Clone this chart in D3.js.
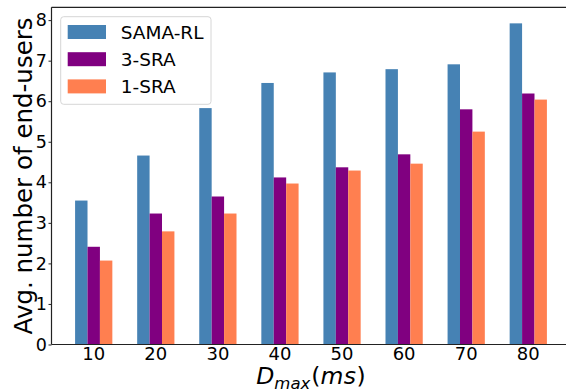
<!DOCTYPE html>
<html>
<head>
<meta charset="utf-8">
<script src="https://cdn.jsdelivr.net/npm/d3@7"></script>
<style>
  html, body { margin: 0; padding: 0; background: #fff; }
  svg { display: block; overflow: hidden; }
  text { font-family: "DejaVu Sans", sans-serif; fill: #000; }
</style>
</head>
<body>
<svg id="chart" width="566" height="390"></svg>
<script>
const categories = ["10", "20", "30", "40", "50", "60", "70", "80"];
const seriesNames = ["SAMA-RL", "3-SRA", "1-SRA"];
const samaRL = [3.55, 4.66, 5.83, 6.45, 6.71, 6.79, 6.91, 7.92];
const sra3   = [2.41, 3.23, 3.65, 4.12, 4.37, 4.69, 5.80, 6.19];
const sra1   = [2.07, 2.79, 3.23, 3.97, 4.29, 4.46, 5.25, 6.04];
const seriesColors = ["#4682b4", "#800080", "#ff7f50"];
const yTickValues = [0, 1, 2, 3, 4, 5, 6, 7, 8];
const yLabel = "Avg. number of end-users";

(function () {
const seriesValues = [samaRL, sra3, sra1];
const rows = categories.map((c, i) => ({
  cat: c,
  vals: seriesNames.map((s, j) => ({ key: s, value: seriesValues[j][i], color: seriesColors[j] }))
}));

const svg = d3.select("#chart");
const pL = 51.5, pR = 570.5, pT = 7.3, pB = 344.5;

const x0 = d3.scaleBand().domain(categories).range([pL, pR])
  .paddingInner(0.4).paddingOuter(0.38);
const x1 = d3.scaleBand().domain(seriesNames).range([0, x0.bandwidth()]);
const y = d3.scaleLinear().domain([0, 8.316]).range([pB, pT]);

// bars
const groups = svg.append("g").selectAll("g").data(rows).join("g")
  .attr("transform", d => `translate(${x0(d.cat)},0)`);
groups.selectAll("rect").data(d => d.vals).join("rect")
  .attr("x", d => x1(d.key))
  .attr("width", x1.bandwidth())
  .attr("y", d => y(d.value))
  .attr("height", d => y(0) - y(d.value))
  .attr("fill", d => d.color);

// axes
const yAxis = d3.axisLeft(y).tickValues(yTickValues).tickFormat(d3.format("d"))
  .tickSize(3).tickPadding(1.5);
const gy = svg.append("g").attr("transform", `translate(${pL},0)`).call(yAxis);
gy.select(".domain").remove();
gy.selectAll("line").attr("stroke", "#222").attr("stroke-width", 1);
gy.selectAll("text").style("font-size", "17.5px").attr("fill", "#000");

const xAxis = d3.axisBottom(x0).tickSize(0).tickPadding(3);
const gx = svg.append("g").attr("transform", `translate(0,${pB})`).call(xAxis);
gx.select(".domain").remove();
gx.selectAll("text").style("font-size", "18px").attr("fill", "#000");

// spines
const spine = svg.append("g").attr("stroke", "#222").attr("stroke-width", 1.2).attr("fill", "none");
spine.append("line").attr("x1", pL).attr("x2", pL).attr("y1", pT).attr("y2", pB);
spine.append("line").attr("x1", pL).attr("x2", pR).attr("y1", pB).attr("y2", pB);
spine.append("line").attr("x1", pL).attr("x2", pR).attr("y1", pT).attr("y2", pT);
spine.append("line").attr("x1", pR).attr("x2", pR).attr("y1", pT).attr("y2", pB);

// y label
svg.append("text")
  .attr("transform", `translate(32,${(pT + pB) / 2}) rotate(-90)`)
  .attr("text-anchor", "middle")
  .style("font-size", "24.5px")
  .text(yLabel);

// x label  D_max(ms)
const xl = svg.append("text")
  .attr("x", (pL + pR) / 2)
  .attr("y", 383.5)
  .attr("text-anchor", "middle")
  .style("font-size", "23.5px");
xl.append("tspan").style("font-style", "italic").text("D");
xl.append("tspan").style("font-style", "italic").style("font-size", "16.5px").attr("dy", 5).text("max");
xl.append("tspan").attr("dy", -5).attr("dx", 1).text("(");
xl.append("tspan").style("font-style", "italic").style("letter-spacing", "0.5px").text("ms");
xl.append("tspan").text(")");

// legend
const lg = svg.append("g");
lg.append("rect").attr("x", 60.7).attr("y", 16.7).attr("width", 150.3).attr("height", 87.6)
  .attr("rx", 3).attr("fill", "#fff").attr("fill-opacity", 0.8)
  .attr("stroke", "#d6d6d6").attr("stroke-width", 1);
const items = lg.selectAll("g.item").data(seriesNames).join("g").attr("class", "item")
  .attr("transform", (d, i) => `translate(0,${25 + i * 27.2})`);
items.append("rect").attr("x", 67.7).attr("y", 0).attr("width", 38.3).attr("height", 14)
  .attr("fill", (d, i) => seriesColors[i]);
items.append("text").attr("x", 120.7).attr("y", 14).style("font-size", "18.5px").text(d => d);
})();
</script>
</body>
</html>
